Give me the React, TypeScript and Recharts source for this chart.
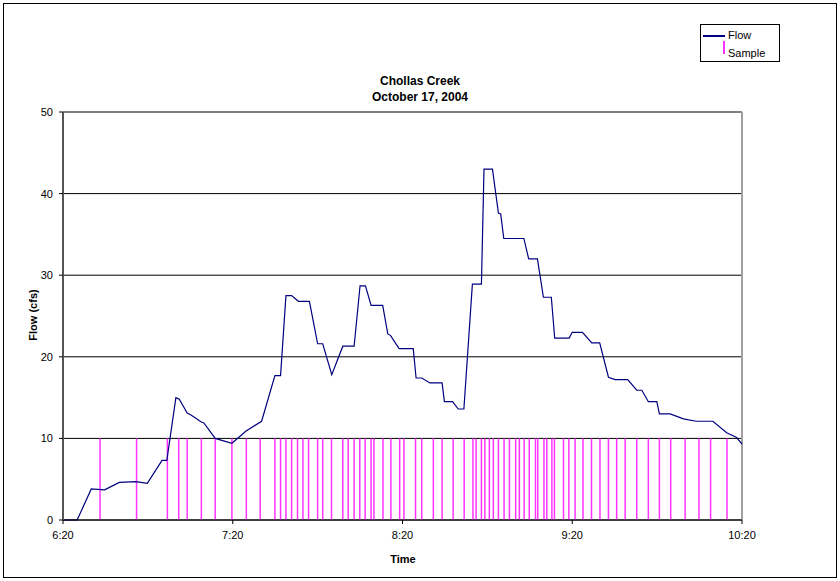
import React from 'react';
import { ComposedChart, Line, XAxis, YAxis, CartesianGrid, ReferenceLine } from 'recharts';

// minutes after 6:20
const flowTimes = [
  0, 5, 10, 14.7, 19.9, 25.8, 29.8, 35, 36.7, 39.9, 41.1, 43.9, 45.1, 48.9, 49.8, 53.8,
  59.7, 64.7, 70.2, 74.9, 76.9, 78.8, 80.8, 83.2, 87.1, 90.0, 91.8, 95.0, 98.9, 102.9,
  105.0, 106.9, 108.9, 113.0, 114.8, 115.8, 118.8, 123.8, 124.8, 126.8, 129.7, 134.0,
  134.8, 137.7, 139.7, 141.7, 144.7, 147.9, 148.8, 151.8, 153.9, 154.7, 155.8, 162.9,
  164.6, 167.7, 169.8, 172.6, 173.8, 178.9, 180.0, 183.6, 186.9, 189.7, 192.8, 195.1,
  199.6, 202.8, 204.6, 206.9, 209.9, 210.8, 214.6, 219.3, 223.8, 229.7, 234.6, 238.1, 240,
];
const flowValues = [
  0, 0, 3.8, 3.7, 4.6, 4.7, 4.5, 7.3, 7.3, 15.0, 14.8, 13.1, 12.9, 12.0, 11.9, 10.0,
  9.4, 10.9, 12.1, 17.7, 17.7, 27.5, 27.5, 26.8, 26.8, 21.6, 21.6, 17.8, 21.3, 21.3,
  28.7, 28.7, 26.3, 26.3, 22.8, 22.6, 21.0, 21.0, 17.4, 17.4, 16.8, 16.8,
  14.5, 14.5, 13.6, 13.6, 28.9, 28.9, 43.0, 43.0, 37.6, 37.5, 34.5, 34.5,
  32.0, 32.0, 27.3, 27.3, 22.3, 22.3, 23.0, 23.0, 21.7, 21.7, 17.5, 17.2,
  17.2, 15.9, 15.9, 14.5, 14.5, 13.0, 13.0, 12.4, 12.1, 12.1, 10.7, 10.1, 9.3,
];

// sample times, minutes after 6:20, each drawn as a bar up to 10 cfs
const sampleTimes = [
  13.1, 26.0, 36.9, 40.9, 43.9, 48.9, 53.8, 59.7, 64.8, 69.7, 74.9, 76.9, 78.8, 80.8,
  82.9, 84.8, 86.8, 90.0, 91.8, 94.9, 98.9, 100.8, 102.9, 104.9, 106.8, 108.9, 109.9,
  113.1, 115.9, 119.0, 120.5, 124.6, 126.8, 130.9, 134.0, 137.9, 141.8, 144.9, 146.0,
  147.9, 149.1, 150.7, 152.1, 153.9, 155.9, 157.8, 160.0, 161.3, 163.0, 164.8, 167.0,
  167.8, 170.0, 171.0, 172.8, 173.7, 176.9, 178.8, 181.0, 183.8, 186.8, 189.8, 192.8,
  195.7, 198.7, 202.8, 206.9, 210.8, 214.8, 219.9, 224.8, 228.9, 234.7,
];
const sampleHeight = 10;

const timeTicks = [0, 60, 120, 180, 240];
const timeLabels = ['6:20', '7:20', '8:20', '9:20', '10:20'];
const flowTicks = [0, 10, 20, 30, 40, 50];

const data = flowTimes.map((t, i) => ({ t, flow: flowValues[i] }));

const font = '"Liberation Sans", Arial, sans-serif';

export default function App() {
  return (
    <div style={{ position: 'fixed', left: 0, top: 0, width: 840, height: 581, fontFamily: font, background: '#fff' }}>
      <div style={{
        position: 'absolute', left: 0, top: 73, width: 840, textAlign: 'center',
        fontWeight: 700, fontSize: 12, lineHeight: '16px', paddingRight: 2
      }}>
        <div>Chollas Creek</div>
        <div>October 17, 2004</div>
      </div>
      <div style={{
        position: 'absolute', left: 33, top: 315, fontWeight: 700, fontSize: 11,
        transform: 'translate(-50%, -50%) rotate(-90deg)', whiteSpace: 'nowrap'
      }}>Flow (cfs)</div>
      <div style={{
        position: 'absolute', left: 0, width: 806, top: 553, textAlign: 'center',
        fontWeight: 700, fontSize: 11
      }}>Time</div>

      <div style={{ position: 'absolute', left: 0, top: 0 }}>
        <ComposedChart width={840} height={581} data={data}
          margin={{ top: 112, right: 98, bottom: 31, left: 23 }}>
          <CartesianGrid vertical={false} stroke="#000" strokeOpacity={1} />
          <XAxis
            dataKey="t"
            type="number"
            domain={[0, 240]}
            ticks={timeTicks}
            tickFormatter={(v: number) => timeLabels[timeTicks.indexOf(v)] ?? ''}
            height={30}
            axisLine={{ stroke: '#000' }}
            tickLine={{ stroke: '#000' }}
            tickSize={4}
            tickMargin={7}
            tick={{ fill: '#000', fontSize: 11, fontFamily: font }}
            interval={0}
          />
          <YAxis
            type="number"
            domain={[0, 50]}
            ticks={flowTicks}
            width={40}
            axisLine={{ stroke: '#555', strokeWidth: 2 }}
            tickLine={{ stroke: '#000' }}
            tickSize={4}
            tickMargin={6}
            tick={{ fill: '#000', fontSize: 11, fontFamily: font }}
            interval={0}
          />
          <ReferenceLine y={50} stroke="#808080" />
          <ReferenceLine x={240} stroke="#a0a0a0" strokeWidth={2} />
          {sampleTimes.map((t, i) => (
            <ReferenceLine key={i} segment={[{ x: t, y: 0 }, { x: t, y: sampleHeight }]}
              stroke="#ff33ff" strokeWidth={1.5} />
          ))}
          <Line type="linear" dataKey="flow" stroke="#000080" strokeWidth={1.2}
            dot={false} isAnimationActive={false} />
        </ComposedChart>
      </div>

      <div style={{
        position: 'absolute', left: 700, top: 24, width: 78, height: 36,
        border: '1px solid #000', background: '#fff', fontSize: 11, lineHeight: '13px'
      }}>
        <div style={{ position: 'absolute', left: 2, top: 10, width: 22, height: 1.5, background: '#000080' }} />
        <div style={{ position: 'absolute', left: 27, top: 4 }}>Flow</div>
        <div style={{ position: 'absolute', left: 22, top: 16, width: 1.5, height: 13, background: '#ff33ff' }} />
        <div style={{ position: 'absolute', left: 27, top: 22 }}>Sample</div>
      </div>

      <div style={{
        position: 'absolute', left: 3, top: 3, width: 834, height: 575, boxSizing: 'border-box',
        border: '1px solid #000', zIndex: 5, pointerEvents: 'none'
      }} />
    </div>
  );
}
